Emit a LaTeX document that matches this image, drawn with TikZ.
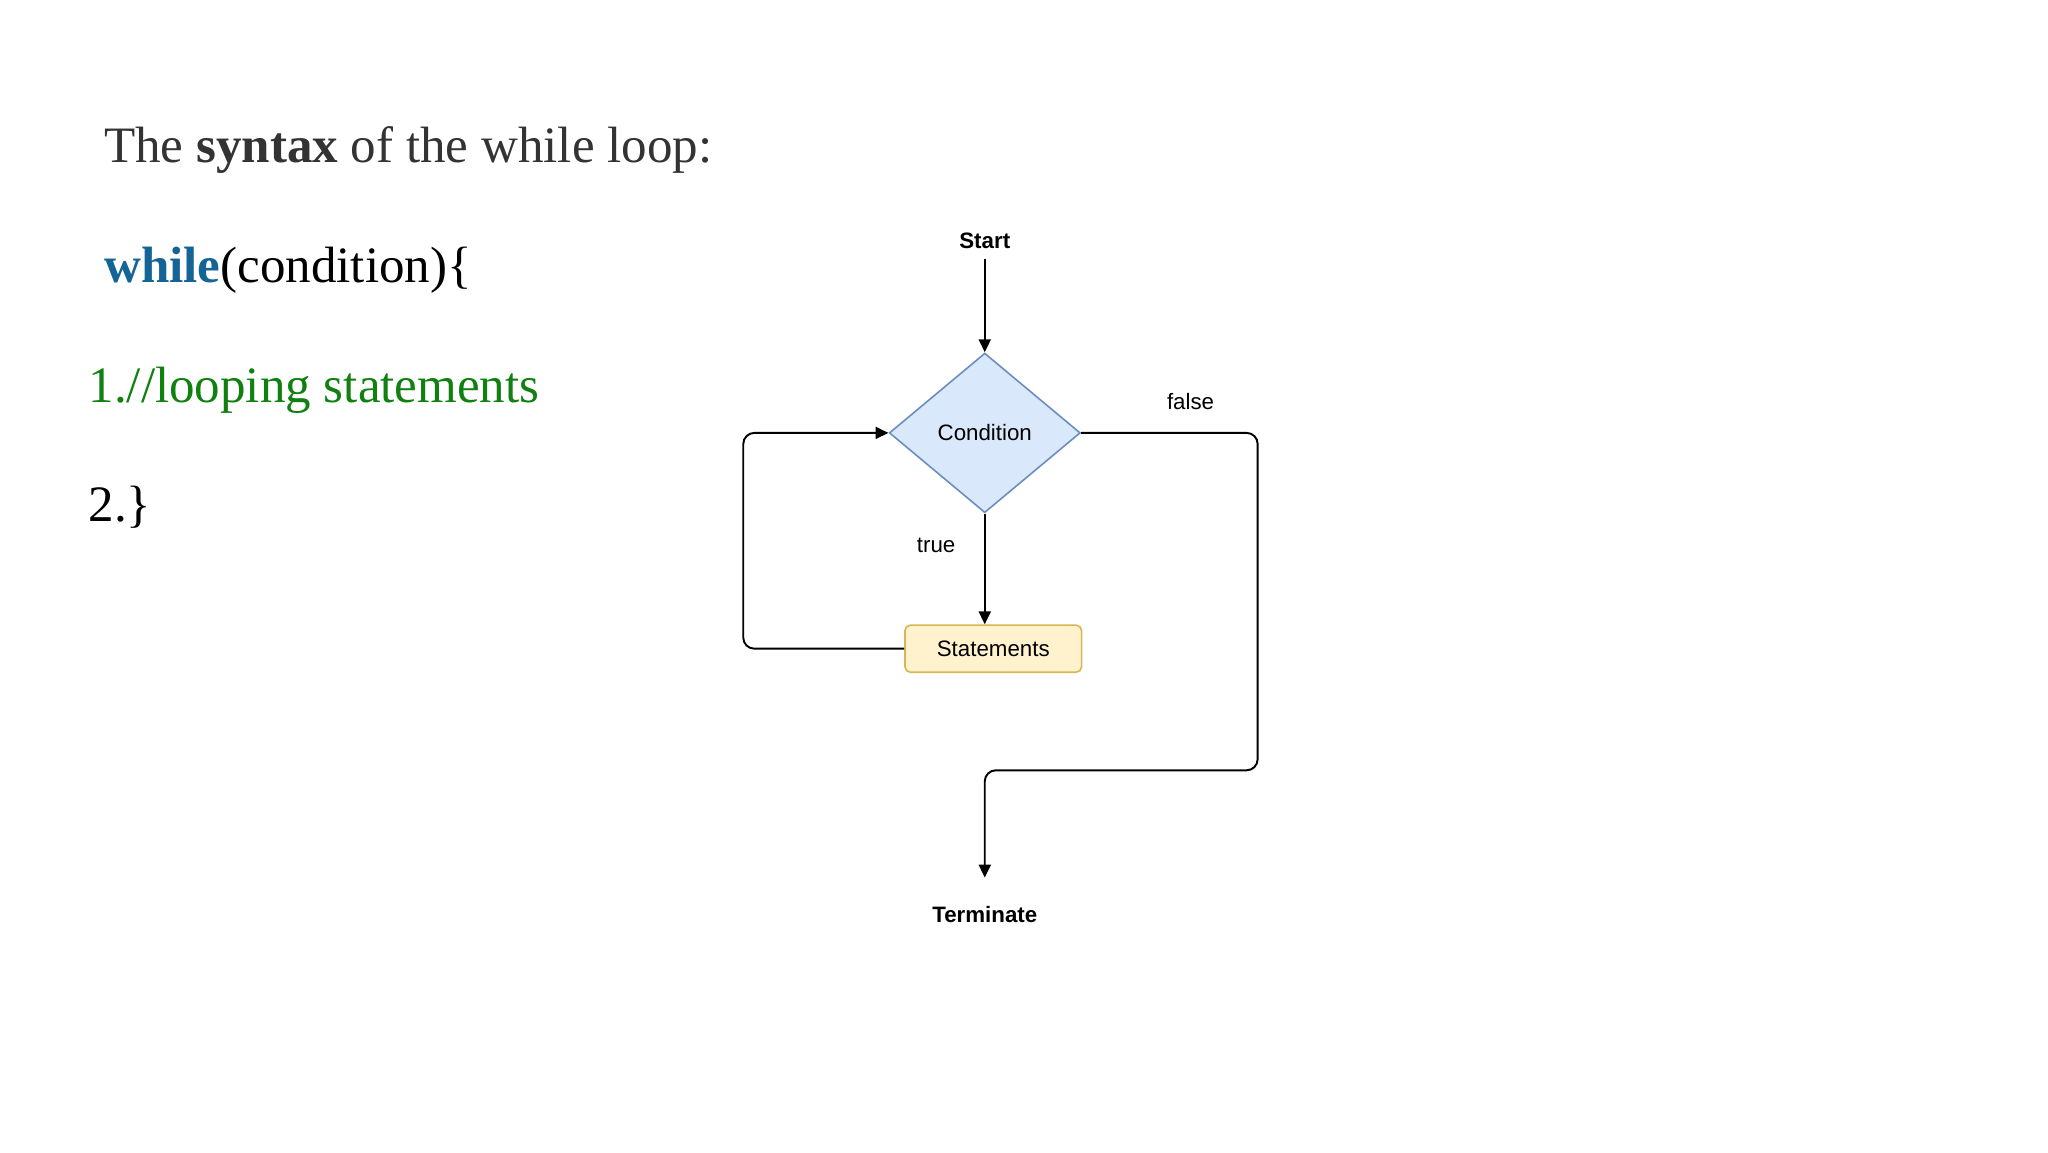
\documentclass[tikz,border=0pt]{standalone}
\usepackage{fontspec}
\setmainfont{Liberation Serif}
\newfontfamily\chartfont{Liberation Sans}
\usetikzlibrary{shapes.geometric,arrows.meta}

\definecolor{keyblue}{RGB}{20,100,150}
\definecolor{commentgreen}{RGB}{16,128,16}
\definecolor{titlegray}{RGB}{51,51,51}
\definecolor{condfill}{HTML}{DAE8FC}
\definecolor{condline}{HTML}{6C8EBF}
\definecolor{stmtfill}{HTML}{FFF2CC}
\definecolor{stmtline}{HTML}{D6B656}

\tikzset{
  codetext/.style={anchor=base west, inner sep=0pt, font=\fontsize{11.1}{13}\selectfont},
  chartlabel/.style={font=\chartfont\fontsize{4.85}{6}\selectfont},
  terminal/.style={inner sep=0pt, font=\chartfont\bfseries\fontsize{4.85}{6}\selectfont},
  decision/.style={diamond, draw=condline, fill=condfill, line width=0.35pt,
    minimum width=1.46cm, minimum height=1.22cm, inner sep=0pt, chartlabel},
  process/.style={rectangle, rounded corners=1.2pt, draw=stmtline, fill=stmtfill,
    line width=0.35pt, minimum width=1.35cm, minimum height=0.36cm, inner sep=0pt, chartlabel},
  flow/.style={-{Triangle[length=2.8pt,width=2.6pt]}, line width=0.42pt, rounded corners=2.4pt}
}

\begin{document}
\begin{tikzpicture}[x=0.01cm, y=-0.01cm]
        \useasboundingbox (0,0) rectangle (1566,881);

        % Code text on the left
        \node[codetext, text=titlegray] (title) at (79,124) {The \textbf{syntax} of the while loop:};
        \node[codetext] (whileline) at (79,216) {\textcolor{keyblue}{\textbf{while}}(condition)\{};
        \node[codetext, text=commentgreen] (comment) at (67,308) {1.//looping statements};
        \node[codetext] (closing) at (67,399) {2.\}};

        % Flowchart nodes
        \node[terminal] (start) at (753,184) {Start};
        \node[decision] (cond) at (753,331) {Condition};
        \node[process] (stmt) at (759.5,496) {Statements};
        \node[terminal] (term) at (753,699) {Terminate};

        % Connectors
        \draw[flow, shorten <=0.07cm] (start) -- (cond);
        \draw[flow] (cond.south) -- node[chartlabel, pos=0.29, left=0.10cm] {true} (stmt.north -| cond.south);
        \draw[flow] (stmt.west) -- ++(-123,0) |- (cond.west);
        \draw[flow, shorten >=0.21cm] (cond.east) -- node[chartlabel, pos=0.62, above=0.05cm] {false} ++(135,0)
            -- ++(0,258) -| (term);
\end{tikzpicture}
\end{document}
